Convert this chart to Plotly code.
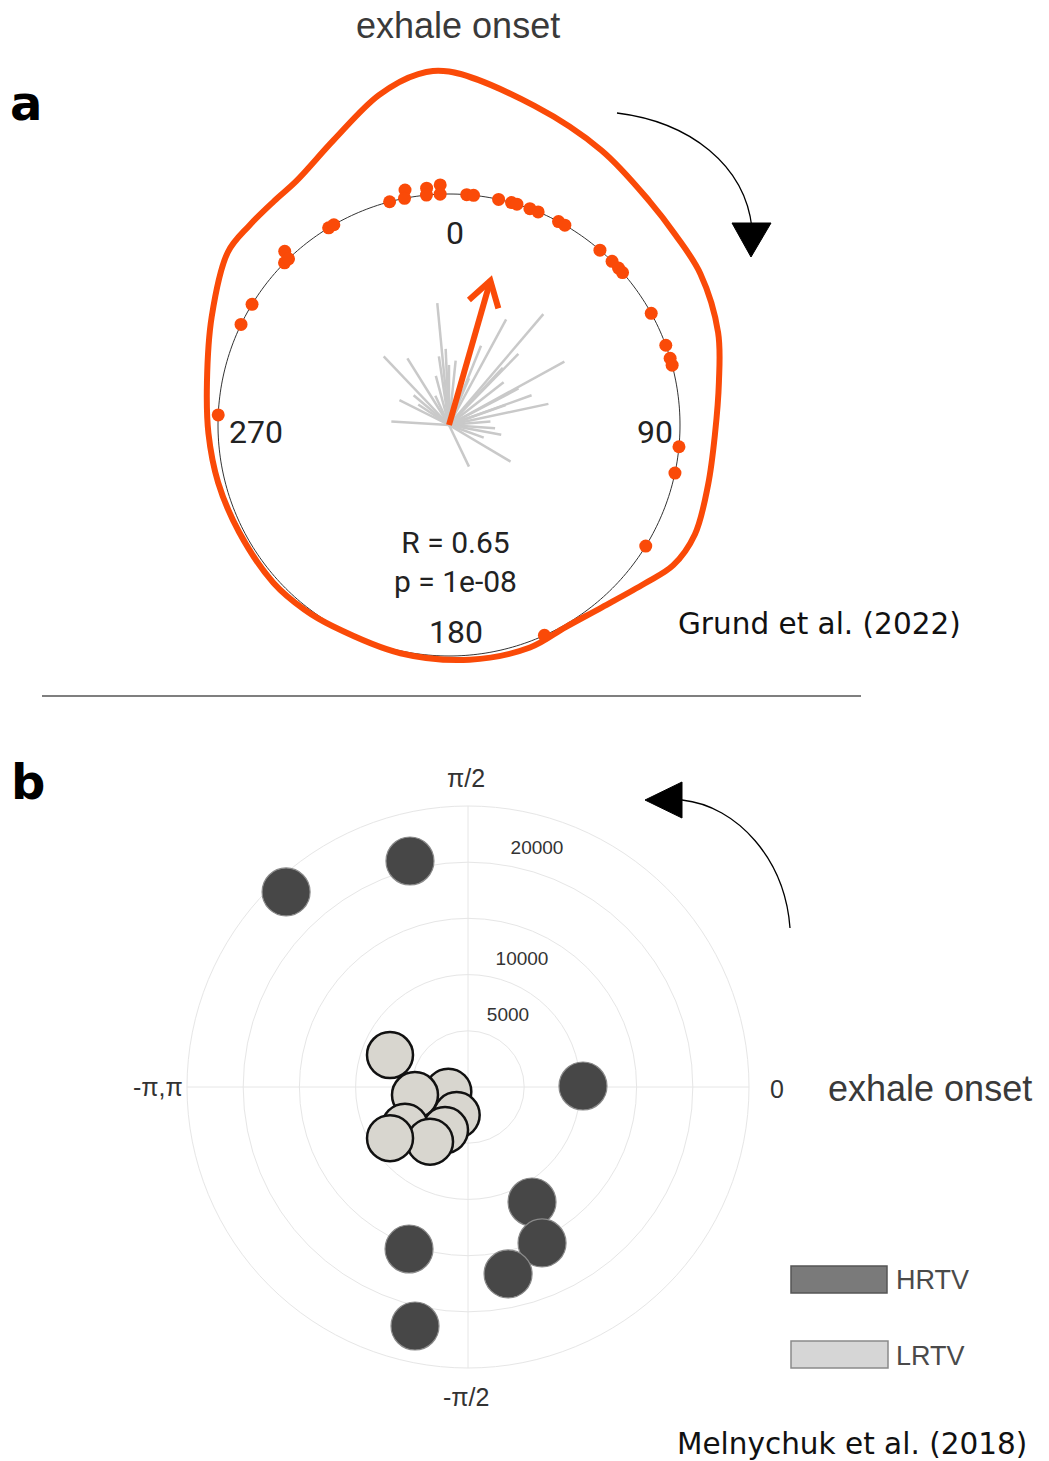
import numpy as np
import plotly.graph_objects as go

W, H = 1049, 1461

# ---------------- Panel a data (degrees clockwise from exhale onset, radius in circle units)
dot_theta = [345.1, 349.4, 348.9, 354.6, 354.4, 357.9, 357.8, 4.4, 6.1, 12.4, 15.7, 17.1,
             20.5, 22.7, 28.3, 30.1, 40.8, 44.9, 47.2, 48.7, 61.1, 69.8, 73.2, 75.0,
             95.4, 102.0, 121.6, 155.6, 272.5, 295.8, 301.5, 314.6, 316.6, 316.0, 328.6, 330.1]
dot_r = [1.0, 1.035, 1.0, 1.03, 1.0, 1.04, 1.0, 1.0, 1.0, 1.0, 1.0, 1.0,
         1.0, 1.0, 1.0, 1.0, 1.0, 1.0, 1.0, 1.0, 1.0, 1.0, 1.0, 1.0,
         1.0, 1.0, 1.0, 1.0, 1.0, 1.0, 1.0, 1.0, 1.035, 1.0, 1.0, 1.0]

ray_theta = [354.5, 316.4, 328.0, 296.6, 273.4, 303.7, 351.6, 345.0, 357.5, 5.9, 28.4, 40.4,
             22.0, 44.3, 61.2, 70.2, 70.6, 94.0, 100.6, 154.4, 120.7, 23.2, 62.3, 16.2,
             43.2, 52.0, 85.0, 335.0, 0.0, 310.0, 110.0, 78.0]
ray_len = [0.53, 0.41, 0.34, 0.24, 0.25, 0.16, 0.30, 0.22, 0.33, 0.28, 0.52, 0.63,
           0.37, 0.43, 0.57, 0.38, 0.26, 0.20, 0.23, 0.20, 0.31, 0.22, 0.34, 0.36,
           0.34, 0.30, 0.18, 0.14, 0.26, 0.20, 0.16, 0.44]

mean_angle = 16.0
mean_R = 0.65
p_value = "1e-08"

blob_theta = [0, 15, 29, 42, 50, 59, 71, 81, 92, 103, 114, 122, 129, 140, 150, 160,
              175, 192, 210, 218, 228, 243, 256, 268, 280, 294.5, 308, 315, 322, 328,
              338, 348, 355]
blob_r = [1.53, 1.43, 1.36, 1.30, 1.28, 1.27, 1.232, 1.183, 1.152, 1.151, 1.165, 1.145,
          1.09, 1.03, 1.01, 1.025, 1.02, 1.01, 1.006, 1.015, 1.022, 1.02, 1.03, 1.042,
          1.064, 1.129, 1.215, 1.222, 1.23, 1.246, 1.331, 1.46, 1.525]

angle_labels_a = ["0", "90", "180", "270"]

# ---------------- Panel b data (degrees, radius)
hrtv_theta_deg = [133.0, 104.4, 0.5, -60.9, -64.6, -77.9, -110.0, -102.5]
hrtv_r = [23730, 20760, 10230, 11710, 15360, 17010, 15340, 21780]
lrtv_theta_deg = [193.4, 188.6, 248.0, 241.9, 212.2, 235.2, 213.3, 157.7]
lrtv_r = [1800, 4770, 2690, 4340, 6630, 5920, 8300, 7500]

radial_ticks_b = [5000, 10000, 15000, 20000]
radial_labels_b = ["5000", "10000", "", "20000"]
angle_ticks_b = [0, 90, 180, 270]
angle_labels_b = ["0", "π/2", "-π,π", "-π/2"]

ORANGE = "#FA4A08"


def dom(cx, cy, rad):
    return dict(x=[(cx - rad) / W, (cx + rad) / W], y=[1 - (cy + rad) / H, 1 - (cy - rad) / H])


fig = go.Figure()

# dummy cartesian trace for pixel-space shapes/annotations
fig.add_trace(go.Scatter(x=[0], y=[0], mode="markers", marker=dict(opacity=0),
                         showlegend=False, hoverinfo="skip"))

# ---- panel a
A_CX, A_CY = 449, 425
A_UNIT = 231.0
A_MAX = 1.6
circ = np.linspace(0, 360, 361)
fig.add_trace(go.Scatterpolar(r=np.ones_like(circ), theta=circ, mode="lines",
                              line=dict(color="#333333", width=1), subplot="polar",
                              showlegend=False, hoverinfo="skip"))

rr, tt = [], []
for th, L in zip(ray_theta, ray_len):
    rr += [0, L, None]
    tt += [th, th, None]
fig.add_trace(go.Scatterpolar(r=rr, theta=tt, mode="lines",
                              line=dict(color="#c9c9c9", width=2.5), subplot="polar",
                              showlegend=False, hoverinfo="skip"))

bt = blob_theta + [blob_theta[0] + 360]
br = blob_r + [blob_r[0]]
fig.add_trace(go.Scatterpolar(r=br, theta=bt, mode="lines",
                              line=dict(color=ORANGE, width=6, shape="spline", smoothing=1.0),
                              subplot="polar", showlegend=False, hoverinfo="skip"))

fig.add_trace(go.Scatterpolar(r=dot_r, theta=dot_theta, mode="markers",
                              marker=dict(color=ORANGE, size=13), subplot="polar",
                              showlegend=False, hoverinfo="skip"))

# mean vector arrow
a = np.radians(mean_angle)
tip = np.array([mean_R * np.sin(a), mean_R * np.cos(a)])
back = -tip / np.linalg.norm(tip)
arm_len = 0.125
arms = []
for s in (+1, -1):
    ang = np.radians(32) * s
    rot = np.array([[np.cos(ang), -np.sin(ang)], [np.sin(ang), np.cos(ang)]])
    arms.append(tip + arm_len * rot @ back)


def to_polar(p):
    return float(np.hypot(p[0], p[1])), float(np.degrees(np.arctan2(p[0], p[1])))


tr, tth = to_polar(tip)
a1r, a1t = to_polar(arms[0])
a2r, a2t = to_polar(arms[1])
fig.add_trace(go.Scatterpolar(r=[0, tr, None, a1r, tr, a2r], theta=[mean_angle, tth, None, a1t, tth, a2t],
                              mode="lines", line=dict(color=ORANGE, width=6),
                              subplot="polar", showlegend=False, hoverinfo="skip"))

# ---- panel b
for th, r, name, fc, lc, lw, sz in [
    (hrtv_theta_deg, hrtv_r, "HRTV", "#474747", "#8a8a8a", 1.2, 48),
    (lrtv_theta_deg, lrtv_r, "LRTV", "#d8d6cf", "#111111", 2.5, 46),
]:
    fig.add_trace(go.Scatterpolar(r=r, theta=list(np.radians(th)), thetaunit="radians",
                                  mode="markers", name=name,
                                  marker=dict(color=fc, size=sz, line=dict(color=lc, width=lw)),
                                  subplot="polar2", showlegend=False, hoverinfo="skip"))

B_CX, B_CY, B_RAD = 468, 1087, 281
B_MAX = 25000
# radial tick labels, offset up-right of each ring's top
lab_off_px = [(40, -15), (54, -14), (0, 0), (69, -13)]
lab_r, lab_t, lab_txt = [], [], []
for v, txt, (ox, oy) in zip(radial_ticks_b, radial_labels_b, lab_off_px):
    if not txt:
        continue
    ypx = v / B_MAX * B_RAD - oy
    xpx = ox
    lab_r.append(np.hypot(xpx, ypx) / B_RAD * B_MAX)
    lab_t.append(np.degrees(np.arctan2(ypx, xpx)))
    lab_txt.append(txt)
fig.add_trace(go.Scatterpolar(r=lab_r, theta=lab_t, mode="text", text=lab_txt,
                              textfont=dict(family="Liberation Sans", size=19, color="#333333"),
                              subplot="polar2", showlegend=False, hoverinfo="skip"))

GRID = "#e6e6e6"
fig.update_layout(
    width=W, height=H, margin=dict(l=0, r=0, t=0, b=0),
    paper_bgcolor="white", plot_bgcolor="rgba(0,0,0,0)",
    xaxis=dict(range=[0, W], visible=False, domain=[0, 1], fixedrange=True),
    yaxis=dict(range=[H, 0], visible=False, domain=[0, 1], fixedrange=True),
    polar=dict(domain=dom(A_CX, A_CY, A_UNIT * A_MAX), bgcolor="rgba(0,0,0,0)",
               radialaxis=dict(visible=False, range=[0, A_MAX]),
               angularaxis=dict(visible=False, direction="clockwise", rotation=90)),
    polar2=dict(domain=dom(B_CX, B_CY, B_RAD), bgcolor="rgba(0,0,0,0)",
                radialaxis=dict(range=[0, B_MAX], tickvals=radial_ticks_b, showticklabels=False,
                                gridcolor=GRID, showline=False, ticks="", layer="below traces"),
                angularaxis=dict(direction="counterclockwise", rotation=0,
                                 tickvals=angle_ticks_b, showticklabels=False,
                                 gridcolor=GRID, linecolor=GRID, showline=True, ticks="",
                                 layer="below traces")),
    showlegend=False,
)

shapes = []
# separator
shapes.append(dict(type="line", x0=42, x1=861, y0=696, y1=696, xref="x", yref="y",
                   line=dict(color="black", width=1.2)))
# panel a direction arrow
shapes.append(dict(type="path", path="M 617,113 C 690,122 745,165 752,228", xref="x", yref="y",
                   line=dict(color="black", width=1.3)))
shapes.append(dict(type="path", path="M 732,223 L 771,223 L 751,257 Z", xref="x", yref="y",
                   fillcolor="black", line=dict(color="black", width=1)))
# panel b direction arrow
shapes.append(dict(type="path", path="M 682,800 C 738,806 785,860 790,928", xref="x", yref="y",
                   line=dict(color="black", width=1.3)))
shapes.append(dict(type="path", path="M 645,800 L 682,782 L 682,818 Z", xref="x", yref="y",
                   fillcolor="black", line=dict(color="black", width=1)))
# legend boxes
shapes.append(dict(type="rect", x0=791, x1=887, y0=1266, y1=1293, xref="x", yref="y",
                   fillcolor="#7a7a7a", line=dict(color="#555555", width=1.5)))
shapes.append(dict(type="rect", x0=791, x1=888, y0=1341, y1=1368, xref="x", yref="y",
                   fillcolor="#d6d6d6", line=dict(color="#8a8a8a", width=1.5)))
fig.update_layout(shapes=shapes)


def ann(text, x, y, size, family, color="#111111", xanchor="center"):
    return dict(text=text, x=x, y=y, xref="x", yref="y", showarrow=False,
                xanchor=xanchor, yanchor="middle",
                font=dict(size=size, family=family, color=color))


# angle labels of panel a, just inside the unit circle
a_lab_pos = [(455, 233), (655, 432), (456, 632), (256, 432)]
# angle labels of panel b, outside the outer ring
b_lab_pos = [(777, 1089), (466, 778), (158, 1087), (466, 1397)]

anns = [
    ann("exhale onset", 458, 25, 36, "Liberation Sans", "#3a3a3a"),
    ann("<b>a</b>", 26, 103, 48, "DejaVu Sans", "#000000"),
    ann("<b>b</b>", 28, 782, 48, "DejaVu Sans", "#000000"),
    ann("R = %.2f<br>p = %s" % (mean_R, p_value), 455, 562, 30, "Roboto", "#222222"),
    ann("Grund et al. (2022)", 819, 624, 29.5, "DejaVu Sans", "#111111"),
    ann("exhale onset", 930, 1088, 36, "Liberation Sans", "#3a3a3a"),
    ann("HRTV", 894, 1280, 27, "Liberation Sans", "#4a4a4a", "left"),
    ann("LRTV", 894, 1356, 27, "Liberation Sans", "#4a4a4a", "left"),
    ann("Melnychuk et al. (2018)", 852, 1444, 29.5, "DejaVu Sans", "#111111"),
]
for txt, (x, y) in zip(angle_labels_a, a_lab_pos):
    anns.append(ann(txt, x, y, 32, "Roboto", "#222222"))
for txt, (x, y) in zip(angle_labels_b, b_lab_pos):
    anns.append(ann(txt, x, y, 25, "Liberation Sans", "#333333"))
fig.update_layout(annotations=anns)

fig.write_html("out.html")
